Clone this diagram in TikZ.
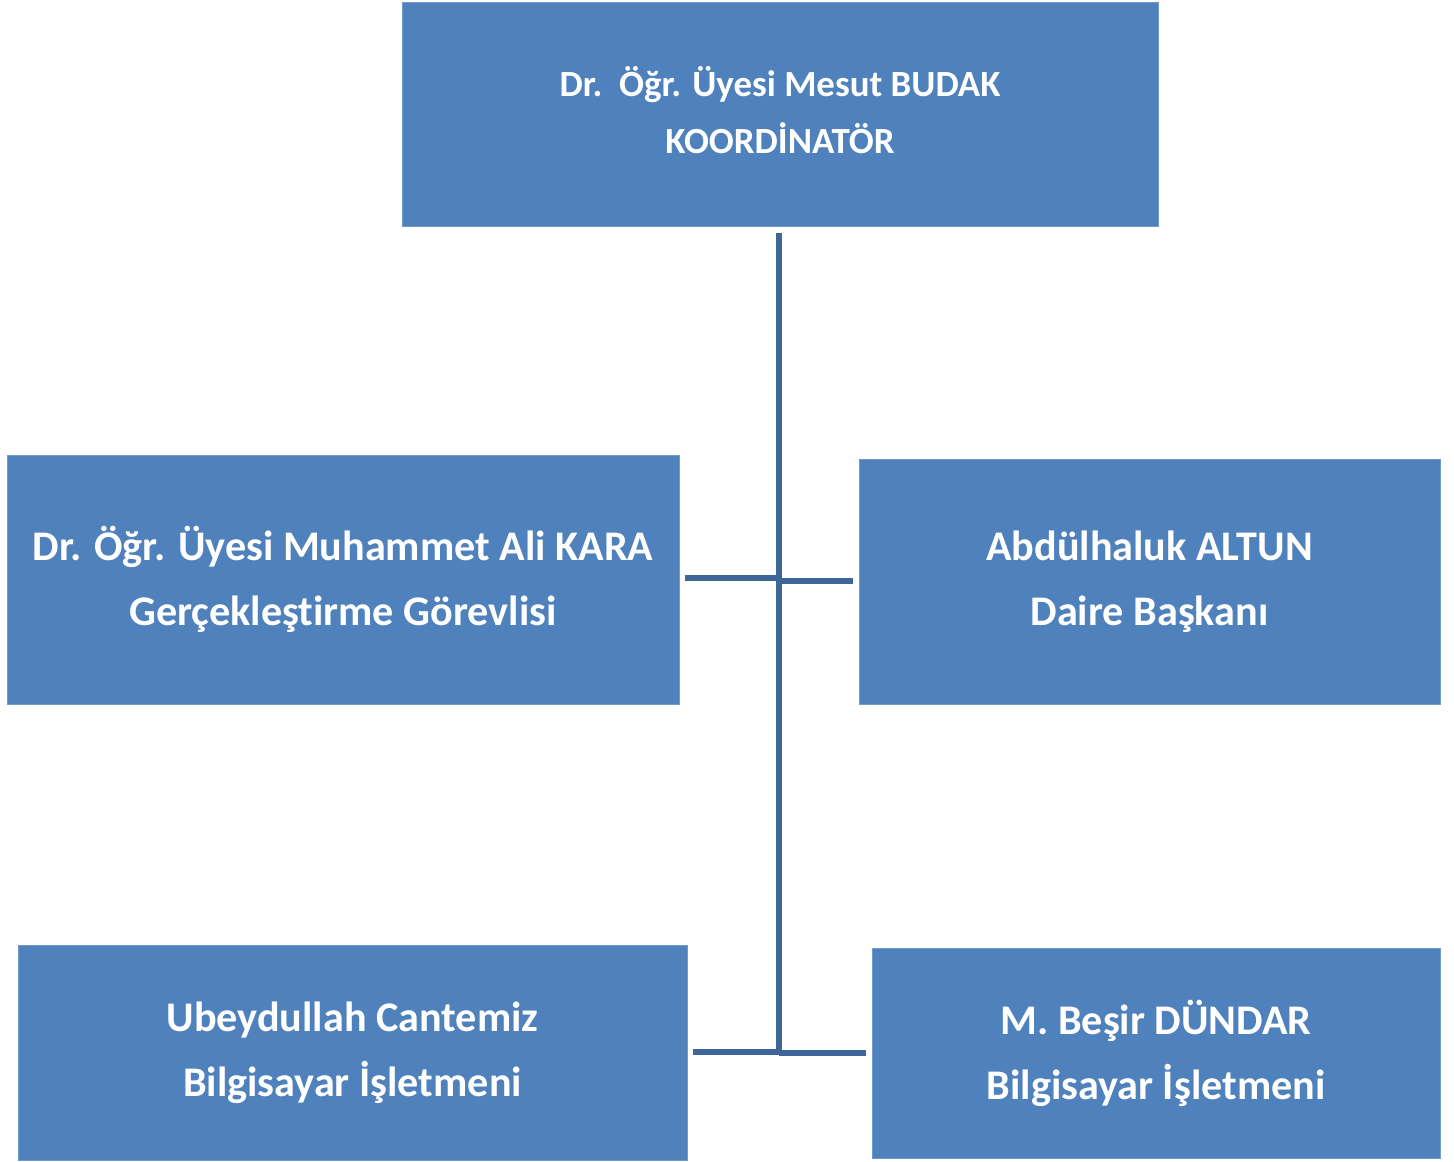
\documentclass[tikz,border=0pt]{standalone}
\usepackage{fontspec}
\setmainfont[Ligatures={NoCommon}]{Carlito}
\definecolor{boxblue}{HTML}{4F81BD}
\definecolor{lineblue}{HTML}{3F6698}

\begin{document}
\begin{tikzpicture}[x=0.02cm,y=-0.02cm,
    box/.style={rectangle,fill=boxblue,draw=boxblue!80!white,line width=0.4pt,
        text=white,font=\bfseries\fontsize{24}{37}\selectfont,align=center,inner sep=0pt},
    link/.style={draw=lineblue,line width=3pt}]
    \useasboundingbox (0,0) rectangle (1454,1162);

    % boxes
    \node[box,font=\bfseries\fontsize{21}{32}\selectfont,
        minimum width=15.12cm,minimum height=4.48cm] (koord) at (780,114)
        {Dr.~\ Öğr. Üyesi Mesut BUDAK\\KOORDİNATÖR\\[-27.5pt]\mbox{}};
    \node[box,minimum width=13.44cm,minimum height=4.98cm] (kara) at (343,579.5)
        {Dr. Öğr. Üyesi Muhammet Ali KARA\\Gerçekleştirme Görevlisi};
    \node[box,minimum width=11.62cm,minimum height=4.9cm] (altun) at (1149.5,581.5)
        {Abdülhaluk ALTUN\\Daire Başkanı};
    \node[box,minimum width=13.38cm,minimum height=4.3cm] (cantemiz) at (352.5,1052.5)
        {Ubeydullah Cantemiz\\Bilgisayar İşletmeni};
    \node[box,minimum width=11.36cm,minimum height=4.2cm] (dundar) at (1156,1053)
        {M. Beşir DÜNDAR\\Bilgisayar İşletmeni};

    % joints
    \coordinate (jmidl) at (779,578);
    \coordinate (jmidr) at (779,581);
    \coordinate (jbotl) at (779,1052);
    \coordinate (jbotr) at (779,1053);

    % connectors
    \draw[link,shorten <=4pt] (koord.south -| jbotl) -- (jbotl);
    \draw[link,shorten <=3.4pt] (kara.east |- jmidl) -- (jmidl);
    \draw[link,shorten >=3.4pt] (jmidr) -- (altun.west |- jmidr);
    \draw[link,shorten <=3pt] (cantemiz.east |- jbotl) -- (jbotl);
    \draw[link,shorten >=3.4pt] (jbotr) -- (dundar.west |- jbotr);
\end{tikzpicture}
\end{document}
